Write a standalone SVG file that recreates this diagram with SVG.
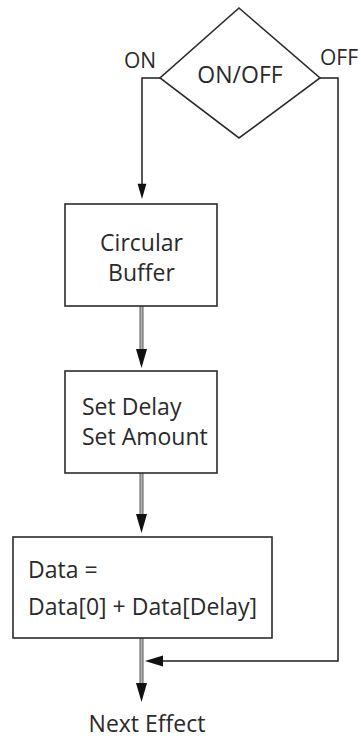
<svg xmlns="http://www.w3.org/2000/svg" xmlns:xlink="http://www.w3.org/1999/xlink" width="361" height="738" viewBox="0 0 361 738">
  <style>
    .shape { fill: #ffffff; stroke: #2b2b2b; stroke-width: 1.6; }
    .label { font-family: "Open Sans", "Liberation Sans", sans-serif; font-size: 23px; fill: #2a2a2a; }
    .side { font-size: 21px; }
    .wire { fill: none; stroke: #1e1e1e; stroke-width: 1.5; }
    .pipe-outer { fill: none; stroke: #5a5a5a; stroke-width: 4; }
    .pipe-inner { fill: none; stroke: #b4b4b4; stroke-width: 2; }
    .head { fill: #111111; }
  </style>
  <defs>
    <!-- arrowhead pointing down, tip at origin -->
    <path id="headDown" d="M0,0 L-5.5,-19 L5.5,-19 Z"/>
    <!-- arrowhead pointing left, tip at origin -->
    <path id="headLeft" d="M0,0 L18,-5.5 L18,5.5 Z"/>
  </defs>

  <rect width="361" height="738" fill="#ffffff"/>

  <g id="connectors">
    <!-- ON branch -->
    <polyline class="wire" points="160,78 142,78 142,184"/>
    <use xlink:href="#headDown" class="head" transform="translate(142,199) scale(0.8)"/>
    <!-- OFF bypass -->
    <polyline class="wire" points="320,78 338,78 338,661 160,661"/>
    <use xlink:href="#headLeft" class="head" x="145" y="661"/>
    <!-- Circular Buffer to Set Delay -->
    <line class="pipe-outer" x1="141.5" y1="306" x2="141.5" y2="352"/>
    <line class="pipe-inner" x1="141.5" y1="306" x2="141.5" y2="352"/>
    <use xlink:href="#headDown" class="head" x="141.5" y="368"/>
    <!-- Set Delay to Data -->
    <line class="pipe-outer" x1="141.5" y1="473" x2="141.5" y2="517"/>
    <line class="pipe-inner" x1="141.5" y1="473" x2="141.5" y2="517"/>
    <use xlink:href="#headDown" class="head" x="141.5" y="533"/>
    <!-- Data to Next Effect -->
    <line class="pipe-outer" x1="141.5" y1="638" x2="141.5" y2="686"/>
    <line class="pipe-inner" x1="141.5" y1="638" x2="141.5" y2="686"/>
    <use xlink:href="#headDown" class="head" x="141.5" y="702"/>
  </g>

  <g id="decision">
    <polygon class="shape" points="239,8 320,78 239,138 160,78"/>
    <text class="label" x="240" y="83" text-anchor="middle" font-size="22">ON/OFF</text>
    <text class="label side" x="124" y="68">ON</text>
    <text class="label side" x="320" y="65">OFF</text>
  </g>

  <g id="circular-buffer">
    <rect class="shape" x="65" y="204" width="152" height="102"/>
    <text class="label" x="141.5" y="251" text-anchor="middle">Circular</text>
    <text class="label" x="141.5" y="281" text-anchor="middle">Buffer</text>
  </g>

  <g id="set-delay">
    <rect class="shape" x="65" y="371" width="152" height="102"/>
    <text class="label" x="82" y="415">Set Delay</text>
    <text class="label" x="82" y="445">Set Amount</text>
  </g>

  <g id="mix">
    <rect class="shape" x="13" y="537" width="259" height="101"/>
    <text class="label" x="28" y="578">Data =</text>
    <text class="label" x="28" y="615">Data[0] + Data[Delay]</text>
  </g>

  <g id="next-effect">
    <text class="label" x="147" y="732" text-anchor="middle">Next Effect</text>
  </g>
</svg>
